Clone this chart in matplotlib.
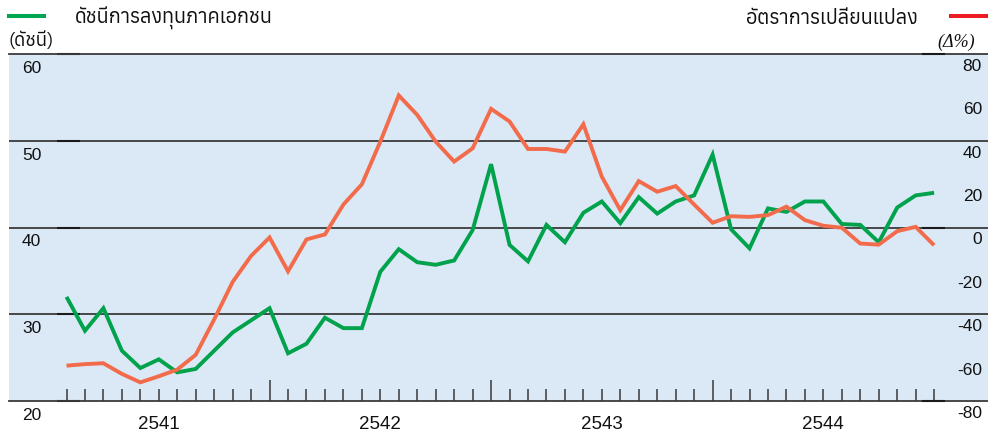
import numpy as np
import matplotlib
matplotlib.use("Agg")
import matplotlib.pyplot as plt
import matplotlib.transforms as mtransforms
from matplotlib import font_manager
from matplotlib.ft2font import FT2Font
from matplotlib.lines import Line2D

# ---------------- data ----------------
years = ["2541", "2542", "2543", "2544"]
private_investment_index = [
    32.0, 28.1, 30.7, 25.8, 23.8, 24.8, 23.3, 23.7, 25.8, 27.9, 29.3, 30.7,
    25.5, 26.6, 29.6, 28.4, 28.4, 34.9, 37.5, 36.0, 35.7, 36.2, 39.7, 47.3,
    38.0, 36.1, 40.3, 38.3, 41.7, 43.0, 40.5, 43.5, 41.6, 43.0, 43.7, 48.4,
    39.8, 37.6, 42.2, 41.8, 43.0, 43.0, 40.4, 40.3, 38.3, 42.3, 43.7, 44.0,
]
change_pct = [
    -63.7, -63.0, -62.6, -67.5, -71.4, -68.6, -65.5, -58.7, -42.4, -25.1, -13.1, -4.6,
    -20.2, -5.5, -3.2, 10.6, 19.9, 39.6, 60.9, 51.9, 39.6, 30.4, 36.5, 54.7,
    48.9, 36.2, 36.2, 35.0, 47.6, 23.4, 8.0, 21.4, 16.5, 19.1, 10.6, 2.2,
    5.2, 4.9, 5.7, 9.6, 3.4, 0.8, -0.1, -7.4, -7.9, -1.7, 0.3, -8.2,
]
left_ticks = [20, 30, 40, 50, 60]
right_ticks = [-80, -60, -40, -20, 0, 20, 40, 60, 80]
left_title = "ดัชนีการลงทุนภาคเอกชน"
right_title = "อัตราการเปลี่ยนแปลง"
left_unit = "(ดัชนี)"
right_unit = "(Δ%)"

# ---------------- fonts ----------------
def find_thai_family():
    prefs = []
    for f in font_manager.fontManager.ttflist:
        try:
            cm = FT2Font(f.fname).get_charmap()
        except Exception:
            continue
        if 0x0E14 in cm and 0x0E31 in cm:
            score = 0
            if f.weight not in ("normal", 400, "regular", "book"):
                score += 2
            if f.style != "normal":
                score += 2
            if "Serif" in f.name:
                score += 1
            if "Looped" in f.name:
                score += 1
            prefs.append((score, f.name))
    if prefs:
        prefs.sort()
        return prefs[0][1]
    return "DejaVu Sans"

thai = find_thai_family()
num_font = "Liberation Sans"

# ---------------- colours ----------------
bg = "#dbe9f6"
grid_c = "#3a3a3a"
green = "#00a24c"
orange = "#f26b4b"
legend_green = "#00a650"
legend_red = "#ed1c24"

W, H = 988, 439
fig = plt.figure(figsize=(W / 100, H / 100), dpi=100)

x0_px, x1_px = 9, 988
ytop_px, ybot_px = 55, 402
ax = fig.add_axes([x0_px / W, 1 - ybot_px / H, (x1_px - x0_px) / W, (ybot_px - ytop_px) / H])
ax.set_facecolor(bg)

n = len(private_investment_index)
xs = np.arange(n)
px_per_idx = 18.46
idx0_px = 66.5
ax.set_xlim((x0_px - idx0_px) / px_per_idx, (x1_px - idx0_px) / px_per_idx)
ax.set_ylim(left_ticks[0], left_ticks[-1])

for s in ["left", "right"]:
    ax.spines[s].set_visible(False)
for s in ["top", "bottom"]:
    ax.spines[s].set_color(grid_c)
    ax.spines[s].set_linewidth(1.3)

for v in left_ticks[1:-1]:
    ax.axhline(v, color=grid_c, lw=1.3, zorder=1)

def px_to_x(p):
    return (p - idx0_px) / px_per_idx

# short axis tick segments (subtle, lying on the grid lines)
for v in left_ticks:
    ax.plot([px_to_x(57), px_to_x(80)], [v, v], color="#1a1a1a", lw=1.5, zorder=1.5,
            clip_on=False, solid_capstyle="butt")

# x ticks
major = [11, 23, 35]
minor = [i for i in range(n) if i not in major]
ax.set_xticks(major)
ax.set_xticks(minor, minor=True)
ax.tick_params(axis="x", which="major", direction="in", length=21 / 1.389, width=1.1,
               color=grid_c, labelbottom=False)
ax.tick_params(axis="x", which="minor", direction="in", length=12 / 1.389, width=1.1,
               color=grid_c, labelbottom=False)
ax.set_yticks([])

ax.plot(xs, private_investment_index, color=green, lw=2.8, zorder=3,
        solid_joinstyle="miter", solid_capstyle="butt")

ax2 = ax.twinx()
ax2.set_ylim(right_ticks[0], right_ticks[-1])
ax2.set_yticks([])
for s in ax2.spines.values():
    s.set_visible(False)
ax2.plot(xs, change_pct, color=orange, lw=2.8, zorder=3,
         solid_joinstyle="miter", solid_capstyle="butt")
for v in [80, 0, -80]:
    ax2.plot([px_to_x(922), px_to_x(945)], [v, v], color="#1a1a1a", lw=1.5, zorder=1.5,
             clip_on=False, solid_capstyle="butt")

# y labels
off_l = mtransforms.ScaledTranslation(0, -13.5 / 100, fig.dpi_scale_trans)
off_r = mtransforms.ScaledTranslation(0, -11.5 / 100, fig.dpi_scale_trans)
tl = mtransforms.blended_transform_factory(ax.transAxes, ax.transData) + off_l
tr = mtransforms.blended_transform_factory(ax2.transAxes, ax2.transData) + off_r
for v in left_ticks:
    ax.text((22 - x0_px) / (x1_px - x0_px), v, str(v), transform=tl, ha="left", va="center",
            fontsize=12.5, family=num_font, color="#111111", clip_on=False)
for v in right_ticks:
    ax2.text((982 - x0_px) / (x1_px - x0_px), v, str(v), transform=tr, ha="right", va="center",
             fontsize=12.5, family=num_font, color="#111111", clip_on=False)

# x labels (year names centred mid-year)
tx = mtransforms.blended_transform_factory(ax.transData, ax.transAxes)
for k, y in enumerate(years):
    ax.text(5 + 12 * k, -22.5 / (ybot_px - ytop_px), y, transform=tx, ha="center", va="center",
            fontsize=13.5, family=num_font, color="#111111")

# titles and units
fig.text(75 / W, 1 - 18 / H, left_title, ha="left", va="center", fontsize=14.3,
         family=[thai, "DejaVu Sans"], color="#111111")
fig.text(918 / W, 1 - 18 / H, right_title, ha="right", va="center", fontsize=14.3,
         family=[thai, "DejaVu Sans"], color="#111111")
fig.text(8 / W, 1 - 41 / H, left_unit, ha="left", va="center", fontsize=13.5,
         family=[thai, "DejaVu Sans"], style="italic", color="#111111")
fig.text(975 / W, 1 - 42 / H, right_unit, ha="right", va="center", fontsize=13,
         family=["Liberation Serif", "DejaVu Serif"], style="italic", color="#111111")

fig.add_artist(Line2D([7 / W, 46 / W], [1 - 17 / H, 1 - 17 / H], color=legend_green, lw=2.9,
                      solid_capstyle="butt"))
fig.add_artist(Line2D([949 / W, 988 / W], [1 - 17 / H, 1 - 17 / H], color=legend_red, lw=2.9,
                      solid_capstyle="butt"))

fig.savefig("out.png", dpi=100)
